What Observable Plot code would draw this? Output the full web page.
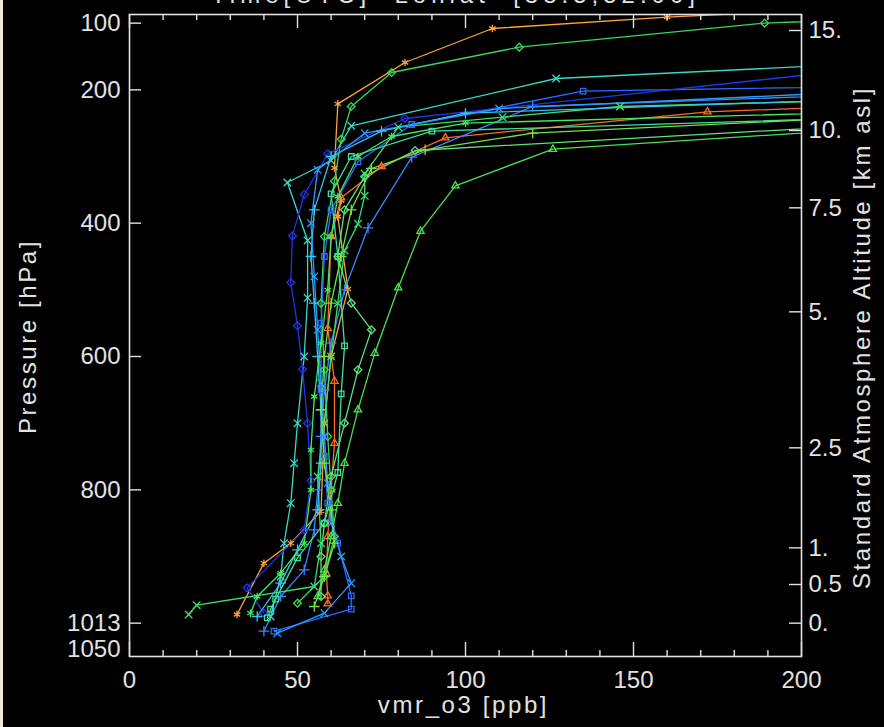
<!DOCTYPE html>
<html><head><meta charset="utf-8">
<script src="https://cdn.jsdelivr.net/npm/d3@7"></script>
<script src="https://cdn.jsdelivr.net/npm/@observablehq/plot@0.6"></script>
<style>
body{margin:0;background:#000;overflow:hidden;}
#chart{position:absolute;left:0;top:0;}
#strip{position:absolute;left:0;top:0;width:3px;height:727px;background:#ece9d8;}
</style>
</head><body>
<div id="chart"></div><div id="strip"></div>
<script>
// ---- data: [vmr_o3 ppb, pressure hPa] per profile ----
const s01 = [[205,80],[160,91],[108,108],[82,159],[62,221],[61,317],[63,366],[62,390],[65,499],[60,600],[58,700],[57,832],[48,880],[40,910],[32,987]];
const s02 = [[230,222],[172,233],[94,272],[75,315],[63,362],[60,420],[59,558],[61,637],[61,730],[60,800],[59,870],[58.6,926],[59,959],[59,971]];
const s03 = [[225,93],[189,100],[116,136],[78,174],[66,225],[63,274],[61,337],[58,420],[57,520],[58,620],[59,720],[60,800],[61,870],[58,930],[50,970]];
const s04 = [[230,158],[127,183],[66,254],[60,306],[47,339],[53,426],[53,512],[52,600],[50,700],[49,760],[48,820],[46,880],[45,930],[42,990]];
const s05 = [[230,194],[135,202],[84,252],[68,308],[60,380],[58,450],[57,550],[57,650],[58,750],[59,820],[62,880],[66,959],[66,979],[43,1012]];
const s06 = [[230,205],[120,225],[84,301],[71,407],[64,500],[60,580],[58,650],[57,720],[56,800],[55,860],[52,920],[45,960],[40,1012]];
const s07 = [[230,162],[82,243],[59,296],[52,357],[48.5,419],[48,489],[50,554],[51.5,619],[53,700],[54,786],[52,860],[35,947],[40,985]];
const s08 = [[230,214],[146,225],[111,241],[80,256],[70,326],[70,359],[68,401],[64,441],[62,520],[60,600],[58,700],[56,780],[57,880],[55,945],[20,973],[17.6,987]];
const s09 = [[230,255],[126,289],[97,344],[86.6,412],[80,497],[73,595],[68,680],[64,760],[62,820],[60,870],[58,920],[56,960]];
const s10 = [[230,250],[85,291],[70,330],[64,380],[62,450],[66,520],[72,560],[68,620],[64,700],[60,780],[58,850],[57,900],[57,960]];
const s11 = [[230,212],[100,235],[75,262],[60,300],[55,380],[54,450],[55,520],[56,600],[57,680],[57,760],[56,830],[50,890],[45,940],[38,990]];
const s12 = [[230,232],[100,250],[78,270],[68,300],[62,360],[60,420],[59,500],[57,580],[55,660],[54,740],[54,800],[52,880],[45,925],[38,960],[36,985]];
const s13 = [[230,240],[90,262],[66,300],[60,356],[62,450],[64,584],[63,656],[62,774],[58,850],[50,902],[43.5,964],[42,979],[41,992]];
const s14 = [[230,200],[110,228],[70,265],[56,320],[54,400],[55,480],[56,560],[57,640],[58,720],[59,790],[60,850],[63,900],[66,940],[58,985],[44,1015]];
const s15 = [[230,238],[120,265],[88,290],[72,318],[66,380],[63,450],[60,520],[58,600],[57,680],[58,760],[60,830],[61,880],[58,930],[55,975]];

const seriesData = [s01,s02,s03,s04,s05,s06,s07,s08,s09,s10,s11,s12,s13,s14,s15];
const seriesNames = ["s01","s02","s03","s04","s05","s06","s07","s08","s09","s10","s11","s12","s13","s14","s15"];
const seriesColors = ["#ffa33a","#ff6a22","#3ad65a","#38d8c8","#2a6cff","#3a86ff","#2234e6","#3ae06c","#4ee04e","#5ee27a","#34c4ec","#46e85c","#40e0a0","#2a9cff","#72e246"];
const seriesSymbols = ["asterisk","triangle2","diamond2","times","square2","plus","diamond2","times","triangle2","diamond2","plus","asterisk","square2","times","plus"];

const pressureTicks = [100,200,400,600,800,1000];
const pressureTickLabels = ["100","200","400","600","800","1013"];
const pressureBottomTick = [1050];
const altitudeTickPressures = [1000,942,887,737,533,377,261,111];
const altitudeTickLabels = ["0.","0.5","1.","2.5","5.","7.5","10.","15."];
const xMajorTicks = [0,50,100,150,200];
const xMinorTicks = [10,20,30,40,60,70,80,90,110,120,130,140,160,170,180,190];
const titleText = "Time[UTC]  Lonlat  [38.5,52.00]";
const xTitle = "vmr_o3 [ppb]";
const yTitle = "Pressure [hPa]";
const y2Title = "Standard Atmosphere Altitude [km asl]";

const rows = [];
seriesData.forEach((s,i)=>s.forEach(([x,p])=>rows.push({series:seriesNames[i],x,p})));

const W=884,H=727,ML=129,MR=83,MT=14,MB=71;
const FW=W-ML-MR, FH=H-MT-MB;
const ink="#e2e2e2";
const font="'Liberation Sans', Arial, sans-serif";

const chart = Plot.plot({
  width:W,height:H,marginLeft:ML,marginRight:MR,marginTop:MT,marginBottom:MB,
  style:{background:"#000",color:ink,fontFamily:font,fontSize:"24px",overflow:"visible"},
  x:{domain:[0,200],axis:null},
  y:{domain:[1050,87],axis:null},
  color:{domain:seriesNames,range:seriesColors},
  symbol:{domain:seriesNames,range:seriesSymbols},
  marks:[
    Plot.line(rows,{x:"x",y:"p",z:"series",stroke:"series",strokeWidth:1.3,clip:true}),
    Plot.dot(rows,{x:"x",y:"p",stroke:"series",symbol:"series",fill:"none",r:3.5,strokeWidth:1.3,clip:true}),
    Plot.frame({stroke:ink,strokeWidth:1.6}),
    Plot.tickX(xMajorTicks,{x:d=>d,stroke:ink,strokeWidth:1.4,insetTop:FH-14}),
    Plot.tickX(xMajorTicks,{x:d=>d,stroke:ink,strokeWidth:1.4,insetBottom:FH-14}),
    Plot.tickX(xMinorTicks,{x:d=>d,stroke:ink,strokeWidth:1.4,insetTop:FH-6}),
    Plot.tickX(xMinorTicks,{x:d=>d,stroke:ink,strokeWidth:1.4,insetBottom:FH-6}),
    Plot.tickY(pressureTicks,{y:d=>d,stroke:ink,strokeWidth:1.4,insetRight:FW-12}),
    Plot.tickY(altitudeTickPressures,{y:d=>d,stroke:ink,strokeWidth:1.4,insetLeft:FW-12}),
    Plot.text(xMajorTicks,{x:d=>d,text:d=>String(d),frameAnchor:"bottom",dy:31,fill:ink}),
    Plot.text(pressureTicks,{y:d=>d,text:(d,i)=>pressureTickLabels[i],frameAnchor:"left",textAnchor:"end",dx:-9,fill:ink}),
    Plot.text(pressureBottomTick,{y:d=>d,text:d=>String(d),frameAnchor:"left",textAnchor:"end",dx:-9,dy:-7,fill:ink}),
    Plot.text(altitudeTickPressures,{y:d=>d,text:(d,i)=>altitudeTickLabels[i],frameAnchor:"right",textAnchor:"start",dx:7,fill:ink}),
    Plot.text([xTitle],{frameAnchor:"bottom",textAnchor:"middle",dy:56,dx:-2,fill:ink,text:d=>d}),
    Plot.text([yTitle],{frameAnchor:"left",textAnchor:"middle",rotate:-90,dx:-101,dy:1,fill:ink,text:d=>d}),
    Plot.text([y2Title],{frameAnchor:"right",textAnchor:"middle",rotate:-90,dx:61,dy:2,fill:ink,text:d=>d}),
    Plot.text([titleText],{frameAnchor:"top",textAnchor:"middle",dy:-29,dx:-10,fill:ink,text:d=>d})
  ]
});
// widen the axis titles' letter spacing like the original's stroke font
d3.select(chart).selectAll("text").each(function(){
  const t = this.textContent;
  if (t === xTitle || t === yTitle || t === y2Title) this.style.letterSpacing = "2.6px";
  else if (t === titleText) this.style.letterSpacing = "5px";
});
document.getElementById("chart").appendChild(chart);
</script>
</body></html>
